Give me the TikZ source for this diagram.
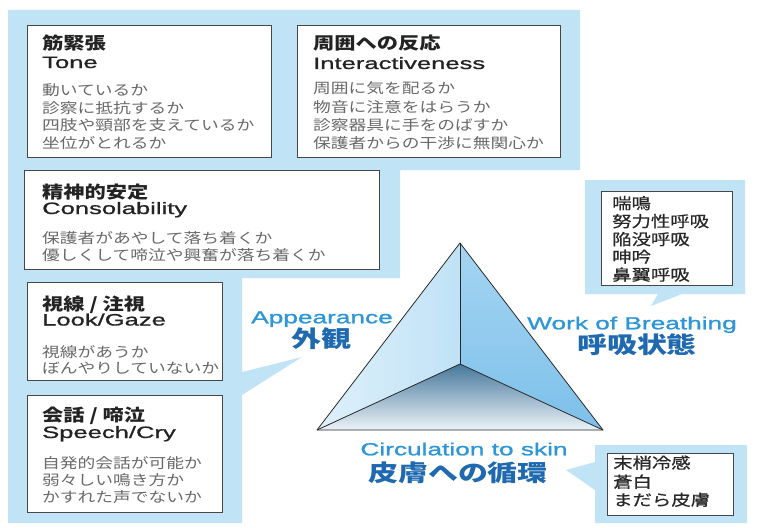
\documentclass[tikz,border=0pt]{standalone}
\usepackage{fontspec}
\newfontfamily\jp[FakeStretch=1.25]{Noto Sans CJK JP}
\newfontfamily\jpd[FakeStretch=1.25,FakeBold=0.6]{Noto Sans CJK JP}
\newfontfamily\jpl[FakeStretch=1.3]{Noto Sans CJK JP}
\newfontfamily\lat[FakeStretch=1.55,FakeBold=0.9]{Liberation Sans}
\newfontfamily\latb[FakeStretch=1.5,FakeBold=1.2]{Liberation Sans}
\definecolor{bg}{RGB}{192,227,246}
\definecolor{boxline}{RGB}{70,70,70}
\definecolor{titlec}{RGB}{35,35,35}
\definecolor{bodyc}{RGB}{105,105,105}
\definecolor{darkc}{RGB}{40,40,40}
\definecolor{lblue}{RGB}{45,150,215}
\definecolor{dblue}{RGB}{30,105,175}
\definecolor{faceL1}{RGB}{222,240,251}
\definecolor{faceL2}{RGB}{192,226,246}
\definecolor{faceR1}{RGB}{165,213,242}
\definecolor{faceR2}{RGB}{125,192,234}
\definecolor{faceB1}{RGB}{70,120,155}
\definecolor{faceB2}{RGB}{236,243,248}
\definecolor{edgec}{RGB}{40,40,40}
\begin{document}
\begin{tikzpicture}[x=1pt,y=-1pt,
  box/.style={draw=boxline,fill=white,line width=1.1pt,inner sep=0pt,anchor=north west},
  jt/.style={anchor=base west,inner sep=0pt,text=titlec,font=\jp\bfseries\fontsize{17}{20}\selectfont},
  lt/.style={anchor=base west,inner sep=0pt,text=titlec,font=\lat\fontsize{16.5}{20}\selectfont},
  jb/.style={anchor=base west,inner sep=0pt,text=bodyc,font=\jp\fontsize{14.2}{17}\selectfont},
  jd/.style={anchor=base west,inner sep=0pt,text=darkc,font=\jpd\fontsize{15.5}{18}\selectfont},
  bl/.style={anchor=base,inner sep=0pt,text=lblue,font=\latb\fontsize{17.5}{20}\selectfont},
  bj/.style={anchor=base,inner sep=0pt,text=dblue,font=\jpl\bfseries\fontsize{23}{26}\selectfont},
  edge/.style={draw=edgec,line width=0.8pt,line join=round}]
\useasboundingbox (0,0) rectangle (765,527);
\fill[white] (0,0) rectangle (765,527);
% blue backgrounds
\fill[bg] (8,10) -- (580,10) -- (580,170) -- (400,170) -- (400,278) -- (242,278)
  -- (242,372) -- (302,357) -- (242,395) -- (242,523) -- (8,523) -- cycle;
\fill[bg] (585,180) -- (745,180) -- (745,294) -- (682,294) -- (651,306) -- (658,294) -- (585,294) -- cycle;
\fill[bg] (595,445) -- (747,445) -- (747,523) -- (595,523) -- (595,490) -- (566,470) -- (595,462) -- cycle;
% boxes
\node[box,minimum width=244pt,minimum height=132pt] (tone) at (27,25) {};
\node[box,minimum width=263pt,minimum height=132pt] (inter) at (297,25) {};
\node[box,minimum width=355pt,minimum height=99pt] (conso) at (24,170) {};
\node[box,minimum width=195pt,minimum height=98pt] (look) at (27,282) {};
\node[box,minimum width=195pt,minimum height=117pt] (speech) at (27,395) {};
\node[box,minimum width=131pt,minimum height=94pt] (wob) at (601,191) {};
\node[box,minimum width=126pt,minimum height=62pt] (circ) at (607,453) {};
% Tone
\node[jt] (tone1) at (42,49.5) {筋緊張};
\node[lt] (tone2) at (42,68) {Tone};
\node[jb] (tone3) at (42,95.4) {動いているか};
\node[jb] (tone4) at (42,113) {診察に抵抗するか};
\node[jb] (tone5) at (42,130.5) {四肢や頸部を支えているか};
\node[jb] (tone6) at (42,148) {坐位がとれるか};
% Interactiveness
\node[jt] (int1) at (313,49.5) {周囲への反応};
\node[lt] (int2) at (313,69) {Interactiveness};
\node[jb] (int3) at (313,93.5) {周囲に気を配るか};
\node[jb] (int4) at (313,112.5) {物音に注意をはらうか};
\node[jb] (int5) at (313,130.5) {診察器具に手をのばすか};
\node[jb] (int6) at (313,148.5) {保護者からの干渉に無関心か};
% Consolability
\node[jt] (con1) at (42,198.5) {精神的安定};
\node[lt] (con2) at (42,214) {Consolability};
\node[jb] (con3) at (42,243.5) {保護者があやして落ち着くか};
\node[jb] (con4) at (42,260.5) {優しくして啼泣や興奮が落ち着くか};
% Look/Gaze
\node[jt] (lk1) at (42,310) {視線 / 注視};
\node[lt] (lk2) at (42,325.5) {Look/Gaze};
\node[jb] (lk3) at (42,357.5) {視線があうか};
\node[jb] (lk4) at (42,373) {ぼんやりしていないか};
% Speech/Cry
\node[jt] (sp1) at (42,421.5) {会話 / 啼泣};
\node[lt] (sp2) at (42,438) {Speech/Cry};
\node[jb] (sp3) at (42,468.5) {自発的会話が可能か};
\node[jb] (sp4) at (42,485.5) {弱々しい鳴き方か};
\node[jb] (sp5) at (42,502.5) {かすれた声でないか};
% Work of breathing list
\node[jd] (wb1) at (612,209) {喘鳴};
\node[jd] (wb2) at (612,227) {努力性呼吸};
\node[jd] (wb3) at (612,245) {陥没呼吸};
\node[jd] (wb4) at (612,262.5) {呻吟};
\node[jd] (wb5) at (612,280.5) {鼻翼呼吸};
% circulation list
\node[jd] (cs1) at (613,468.6) {末梢冷感};
\node[jd] (cs2) at (613,487.6) {蒼白};
\node[jd] (cs3) at (613,505.6) {まだら皮膚};
% triangle
\coordinate (A) at (460,243);
\coordinate (L) at (317,430);
\coordinate (C) at (460,364);
\coordinate (R) at (603,430);
\shade[left color=faceL1,right color=faceL2] (A) -- (L) -- (C) -- cycle;
\shade[top color=faceR1,bottom color=faceR2] (A) -- (C) -- (R) -- cycle;
\shade[top color=faceB1,bottom color=faceB2] (L) -- (C) -- (R) -- cycle;
\draw[edge] (A) -- (L) -- (R) -- cycle;
\draw[edge] (A) -- (C);
\draw[edge] (L) -- (C) -- (R);
% labels
\node[bl] (app1) at (322,323.3) {Appearance};
\node[bj] (app2) at (321,347.7) {外観};
\node[bl] (wob1) at (632,329.3) {Work of Breathing};
\node[bj] (wob2) at (637,353.7) {呼吸状態};
\node[bl] (cir1) at (464,455.3) {Circulation to skin};
\node[bj] (cir2) at (458,481.7) {皮膚への循環};
\end{tikzpicture}
\end{document}
